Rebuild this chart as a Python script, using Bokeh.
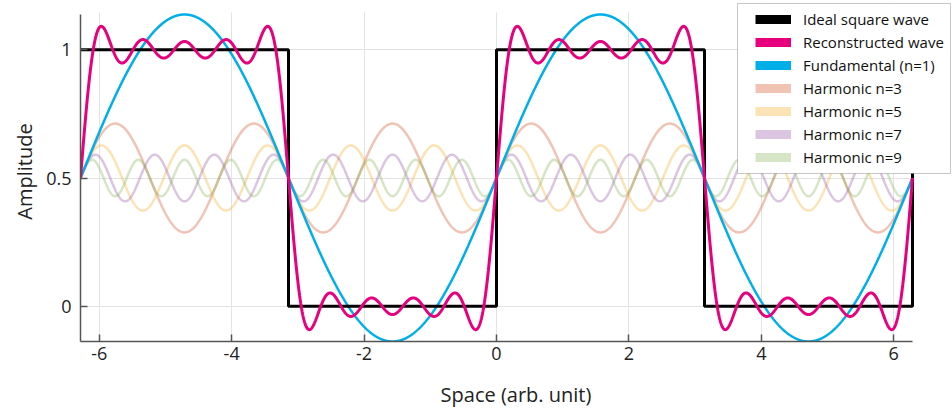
import numpy as np
from bokeh.plotting import figure
from bokeh.models import Legend, LegendItem, Range1d, FixedTicker, BoxAnnotation
from bokeh.embed import file_html
from bokeh.resources import INLINE

# Square wave: alternating levels between jump positions (multiples of pi)
square_edges = [-2 * np.pi, -np.pi, 0.0, np.pi, 2 * np.pi]
square_levels = [1, 0, 1, 0]
offset = 0.5

# Fourier components: odd harmonic orders and their amplitudes
orders = [1, 3, 5, 7, 9]
amplitudes = [0.637, 0.212, 0.127, 0.091, 0.071]

harmonic_names = ["Fundamental (n=1)", "Harmonic n=3", "Harmonic n=5",
                  "Harmonic n=7", "Harmonic n=9"]
harmonic_colors = ["#00aee8", "#d4542a", "#f5b02a", "#9a58a8", "#86b45a"]
harmonic_alpha = [1.0, 0.35, 0.35, 0.35, 0.35]

x_ticks = [-6, -4, -2, 0, 2, 4, 6]
x_tick_labels = ["-6", "-4", "-2", "0", "2", "4", "6"]
y_ticks = [0, 0.5, 1]
y_tick_labels = ["0", "0.5", "1"]

FONT = "Open Sans"

x = np.linspace(-2 * np.pi, 2 * np.pi, 3000)
components = [a * np.sin(n * x) for n, a in zip(orders, amplitudes)]
reconstructed = offset + np.sum(components, axis=0)

# step outline of the ideal square wave
sq_x, sq_y = [], []
for i, lvl in enumerate(square_levels):
    x0, x1 = square_edges[i], square_edges[i + 1]
    sq_x += [x0, x1]
    sq_y += [lvl, lvl]
sq_x.append(square_edges[-1])
sq_y.append(square_levels[0])

x_lo, x_hi = -2 * np.pi, 2 * np.pi
y_lo, y_hi = offset - amplitudes[0], offset + amplitudes[0]

# The frame is stretched a little beyond the data box (right and top) so the
# legend can overhang it; those strips are blanked and axes/grids are bounded.
W, H = 952, 411
data_left, data_right, data_top, data_bottom = 80, 912, 14, 341
frame_right, frame_top = 951, 1
x_end = x_lo + (x_hi - x_lo) * (frame_right - data_left) / (data_right - data_left)
y_end = y_lo + (y_hi - y_lo) * (data_bottom - frame_top) / (data_bottom - data_top)

p = figure(width=W, height=H, output_backend="svg", toolbar_location=None,
           x_range=Range1d(x_lo, x_end), y_range=Range1d(y_lo, y_end),
           min_border_left=data_left, min_border_right=W - frame_right,
           min_border_top=frame_top, min_border_bottom=H - data_bottom)
p.outline_line_color = None
p.background_fill_color = "white"

# harmonics behind the main curves
for comp, col, al in list(zip(components, harmonic_colors, harmonic_alpha))[1:]:
    p.line(x, offset + comp, line_color=col, line_alpha=al, line_width=2.5)

p.line(x, offset + components[0], line_color=harmonic_colors[0], line_width=2.5)
p.line(sq_x, sq_y, line_color="black", line_width=3)
p.line(x, reconstructed, line_color="#e6007e", line_width=3)

p.add_layout(BoxAnnotation(left=x_hi + 0.025, fill_color="white", fill_alpha=1.0,
                           line_color=None))
p.add_layout(BoxAnnotation(bottom=y_hi + 0.008, fill_color="white", fill_alpha=1.0,
                           line_color=None))

# legend panel: white box with a thin border, wider on the left than the legend
p.add_layout(BoxAnnotation(left=737, right=950, top=3, bottom=173,
                           left_units="canvas", right_units="canvas",
                           top_units="canvas", bottom_units="canvas",
                           fill_color="white", fill_alpha=1.0,
                           line_color="#444444", line_width=1))

# legend swatches drawn with thicker strokes
names = ["Ideal square wave", "Reconstructed wave"] + harmonic_names
colors = ["black", "#e6007e"] + harmonic_colors
alphas = [1.0, 1.0] + harmonic_alpha
items = []
for nm, col, al in zip(names, colors, alphas):
    r = p.line([np.nan], [np.nan], line_color=col, line_alpha=al, line_width=9)
    items.append(LegendItem(label=nm, renderers=[r]))

legend = Legend(items=items, location=(675, 174))
legend.glyph_width = 36
legend.glyph_height = 20
legend.label_height = 20
legend.spacing = 3
legend.padding = 6
legend.margin = 0
legend.label_standoff = 12
legend.label_text_font = FONT
legend.label_text_font_size = "15px"
legend.label_text_color = "#111111"
legend.border_line_color = None
legend.background_fill_alpha = 0.0
p.add_layout(legend, "center")

for ax in (p.xaxis[0], p.yaxis[0]):
    ax.axis_line_color = "#555555"
    ax.axis_line_width = 1.5
    ax.major_tick_line_color = "#555555"
    ax.major_tick_line_width = 1.5
    ax.major_tick_in = 7
    ax.major_tick_out = 0
    ax.minor_tick_line_color = None
    ax.major_label_text_font = FONT
    ax.major_label_text_font_size = "18px"
    ax.major_label_text_color = "#222222"
    ax.axis_label_text_font = FONT
    ax.axis_label_text_font_size = "20px"
    ax.axis_label_text_font_style = "normal"
    ax.axis_label_text_color = "#222222"

p.xaxis.bounds = (x_lo, x_hi)
p.yaxis.bounds = (y_lo, y_hi)
p.xaxis.ticker = FixedTicker(ticks=x_ticks)
p.yaxis.ticker = FixedTicker(ticks=y_ticks)
p.xaxis.major_label_overrides = dict(zip(x_ticks, x_tick_labels))
p.yaxis.major_label_overrides = dict(zip(y_ticks, y_tick_labels))
p.xaxis.axis_label = "Space (arb. unit)"
p.yaxis.axis_label = "Amplitude"
p.xaxis.major_label_standoff = 5
p.yaxis.major_label_standoff = 9
p.xaxis.axis_label_standoff = 18
p.yaxis.axis_label_standoff = 5

p.xgrid.grid_line_color = "#e3e3e3"
p.ygrid.grid_line_color = "#e3e3e3"
p.xgrid.bounds = (y_lo, y_hi)
p.ygrid.bounds = (x_lo, x_hi)
p.xgrid.grid_line_width = 1
p.ygrid.grid_line_width = 1

open("out.html", "w").write(file_html(p, INLINE))
